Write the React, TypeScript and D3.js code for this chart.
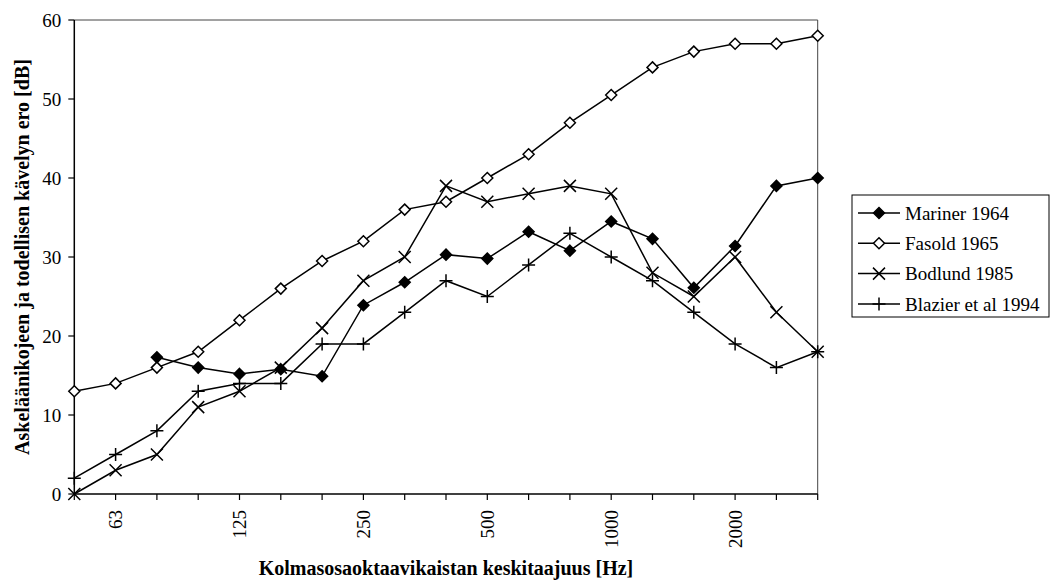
import React from "react";
import * as d3 from "d3";

// third-octave band centre frequencies (Hz)
const bands = ["50", "63", "80", "100", "125", "160", "200", "250", "315", "400", "500", "630", "800", "1000", "1250", "1600", "2000", "2500", "3150"];
const shownLabels = ["63", "125", "250", "500", "1000", "2000"];
const yTicks = [0, 10, 20, 30, 40, 50, 60];

const mariner = [null, null, 17.3, 16, 15.2, 15.8, 14.9, 23.9, 26.8, 30.3, 29.8, 33.2, 30.8, 34.5, 32.3, 26.1, 31.4, 39, 40];
const fasold = [13, 14, 16, 18, 22, 26, 29.5, 32, 36, 37, 40, 43, 47, 50.5, 54, 56, 57, 57, 58];
const bodlund = [0, 3, 5, 11, 13, 16, 21, 27, 30, 39, 37, 38, 39, 38, 28, 25, 30, 23, 18];
const blazier = [2, 5, 8, 13, 14, 14, 19, 19, 23, 27, 25, 29, 33, 30, 27, 23, 19, 16, 18];

const seriesNames = ["Mariner 1964", "Fasold 1965", "Bodlund 1985", "Blazier et al 1994"];
const seriesValues = [mariner, fasold, bodlund, blazier];
const markerKinds = ["filledDiamond", "openDiamond", "cross", "plus"];

const W = 1051;
const H = 581;
const left = 74.3;
const right = 817.7;
const top = 20;
const bottom = 494;
const font = "'Liberation Serif', 'Times New Roman', serif";

function Marker({ kind, x, y }: { kind: string; x: number; y: number }) {
  if (kind === "filledDiamond" || kind === "openDiamond") {
    const s = 5.5;
    return (
      <path
        d={`M${x},${y - s}L${x + s},${y}L${x},${y + s}L${x - s},${y}Z`}
        fill={kind === "filledDiamond" ? "#000" : "#fff"}
        stroke="#000"
        strokeWidth={1.5}
      />
    );
  }
  if (kind === "cross") {
    const s = 6;
    return (
      <path d={`M${x - s},${y - s}L${x + s},${y + s}M${x - s},${y + s}L${x + s},${y - s}`} stroke="#000" strokeWidth={1.5} fill="none" />
    );
  }
  const s = 6.5;
  return <path d={`M${x - s},${y}L${x + s},${y}M${x},${y - s}L${x},${y + s}`} stroke="#000" strokeWidth={1.5} fill="none" />;
}

export default function App() {
  const x = d3.scalePoint<string>().domain(bands).range([left, right]);
  const y = d3.scaleLinear().domain([0, 60]).range([bottom, top]);

  const line = d3
    .line<number | null>()
    .defined((d) => d !== null)
    .x((_, i) => x(bands[i]) as number)
    .y((d) => y(d as number));

  const legX = 852;
  const legY = 195;
  const legW = 197;
  const legH = 122;
  const rowGap = 30.3;

  return (
    <svg width={W} height={H} style={{ position: "absolute", left: 0, top: 0, background: "#fff" }} fontFamily={font}>
      <rect width={W} height={H} fill="#fff" />
      {/* plot frame */}
      <line x1={left} y1={top} x2={right} y2={top} stroke="#444" strokeWidth={1} />
      <line x1={right} y1={top} x2={right} y2={bottom} stroke="#444" strokeWidth={1} />

      {/* y axis */}
      <line x1={left} y1={top} x2={left} y2={bottom} stroke="#000" strokeWidth={1.5} />
      {yTicks.map((t) => (
        <g key={t}>
          <line x1={left - 6} x2={left} y1={y(t)} y2={y(t)} stroke="#000" strokeWidth={1.2} />
          <text x={left - 13} y={y(t)} dy="0.35em" textAnchor="end" fontSize={19}>
            {t}
          </text>
        </g>
      ))}

      {/* x axis */}
      <line x1={left} y1={bottom} x2={right} y2={bottom} stroke="#000" strokeWidth={1.5} />
      {bands.map((b) => (
        <line key={b} x1={x(b)} x2={x(b)} y1={bottom} y2={bottom + 6} stroke="#000" strokeWidth={1.2} />
      ))}
      {shownLabels.map((b) => (
        <text
          key={b}
          transform={`translate(${x(b)},${bottom + 16}) rotate(-90)`}
          textAnchor="end"
          dy="0.35em"
          fontSize={19}
        >
          {b}
        </text>
      ))}

      {/* series */}
      {seriesValues.map((vals, si) => (
        <g key={seriesNames[si]}>
          <path d={line(vals) ?? ""} fill="none" stroke="#000" strokeWidth={1.5} />
          {vals.map((v, i) =>
            v === null ? null : <Marker key={i} kind={markerKinds[si]} x={x(bands[i]) as number} y={y(v)} />
          )}
        </g>
      ))}

      {/* axis titles */}
      <text x={(left + right) / 2} y={568} textAnchor="middle" dy="0.35em" fontWeight="bold" fontSize={20}>
        Kolmasosaoktaavikaistan keskitaajuus [Hz]
      </text>
      <text
        transform={`translate(22,${(top + bottom) / 2}) rotate(-90)`}
        textAnchor="middle"
        dy="0.35em"
        fontWeight="bold"
        fontSize={20}
      >
        Askeläänikojeen ja todellisen kävelyn ero [dB]
      </text>

      {/* legend */}
      <rect x={legX} y={legY} width={legW} height={legH} fill="#fff" stroke="#000" strokeWidth={1} />
      {seriesNames.map((name, i) => {
        const cy = legY + 18 + i * rowGap;
        return (
          <g key={name}>
            <line x1={legX + 6} x2={legX + 48} y1={cy} y2={cy} stroke="#000" strokeWidth={1.5} />
            <Marker kind={markerKinds[i]} x={legX + 27} y={cy} />
            <text x={legX + 53} y={cy} dy="0.35em" fontSize={19}>
              {name}
            </text>
          </g>
        );
      })}
    </svg>
  );
}
